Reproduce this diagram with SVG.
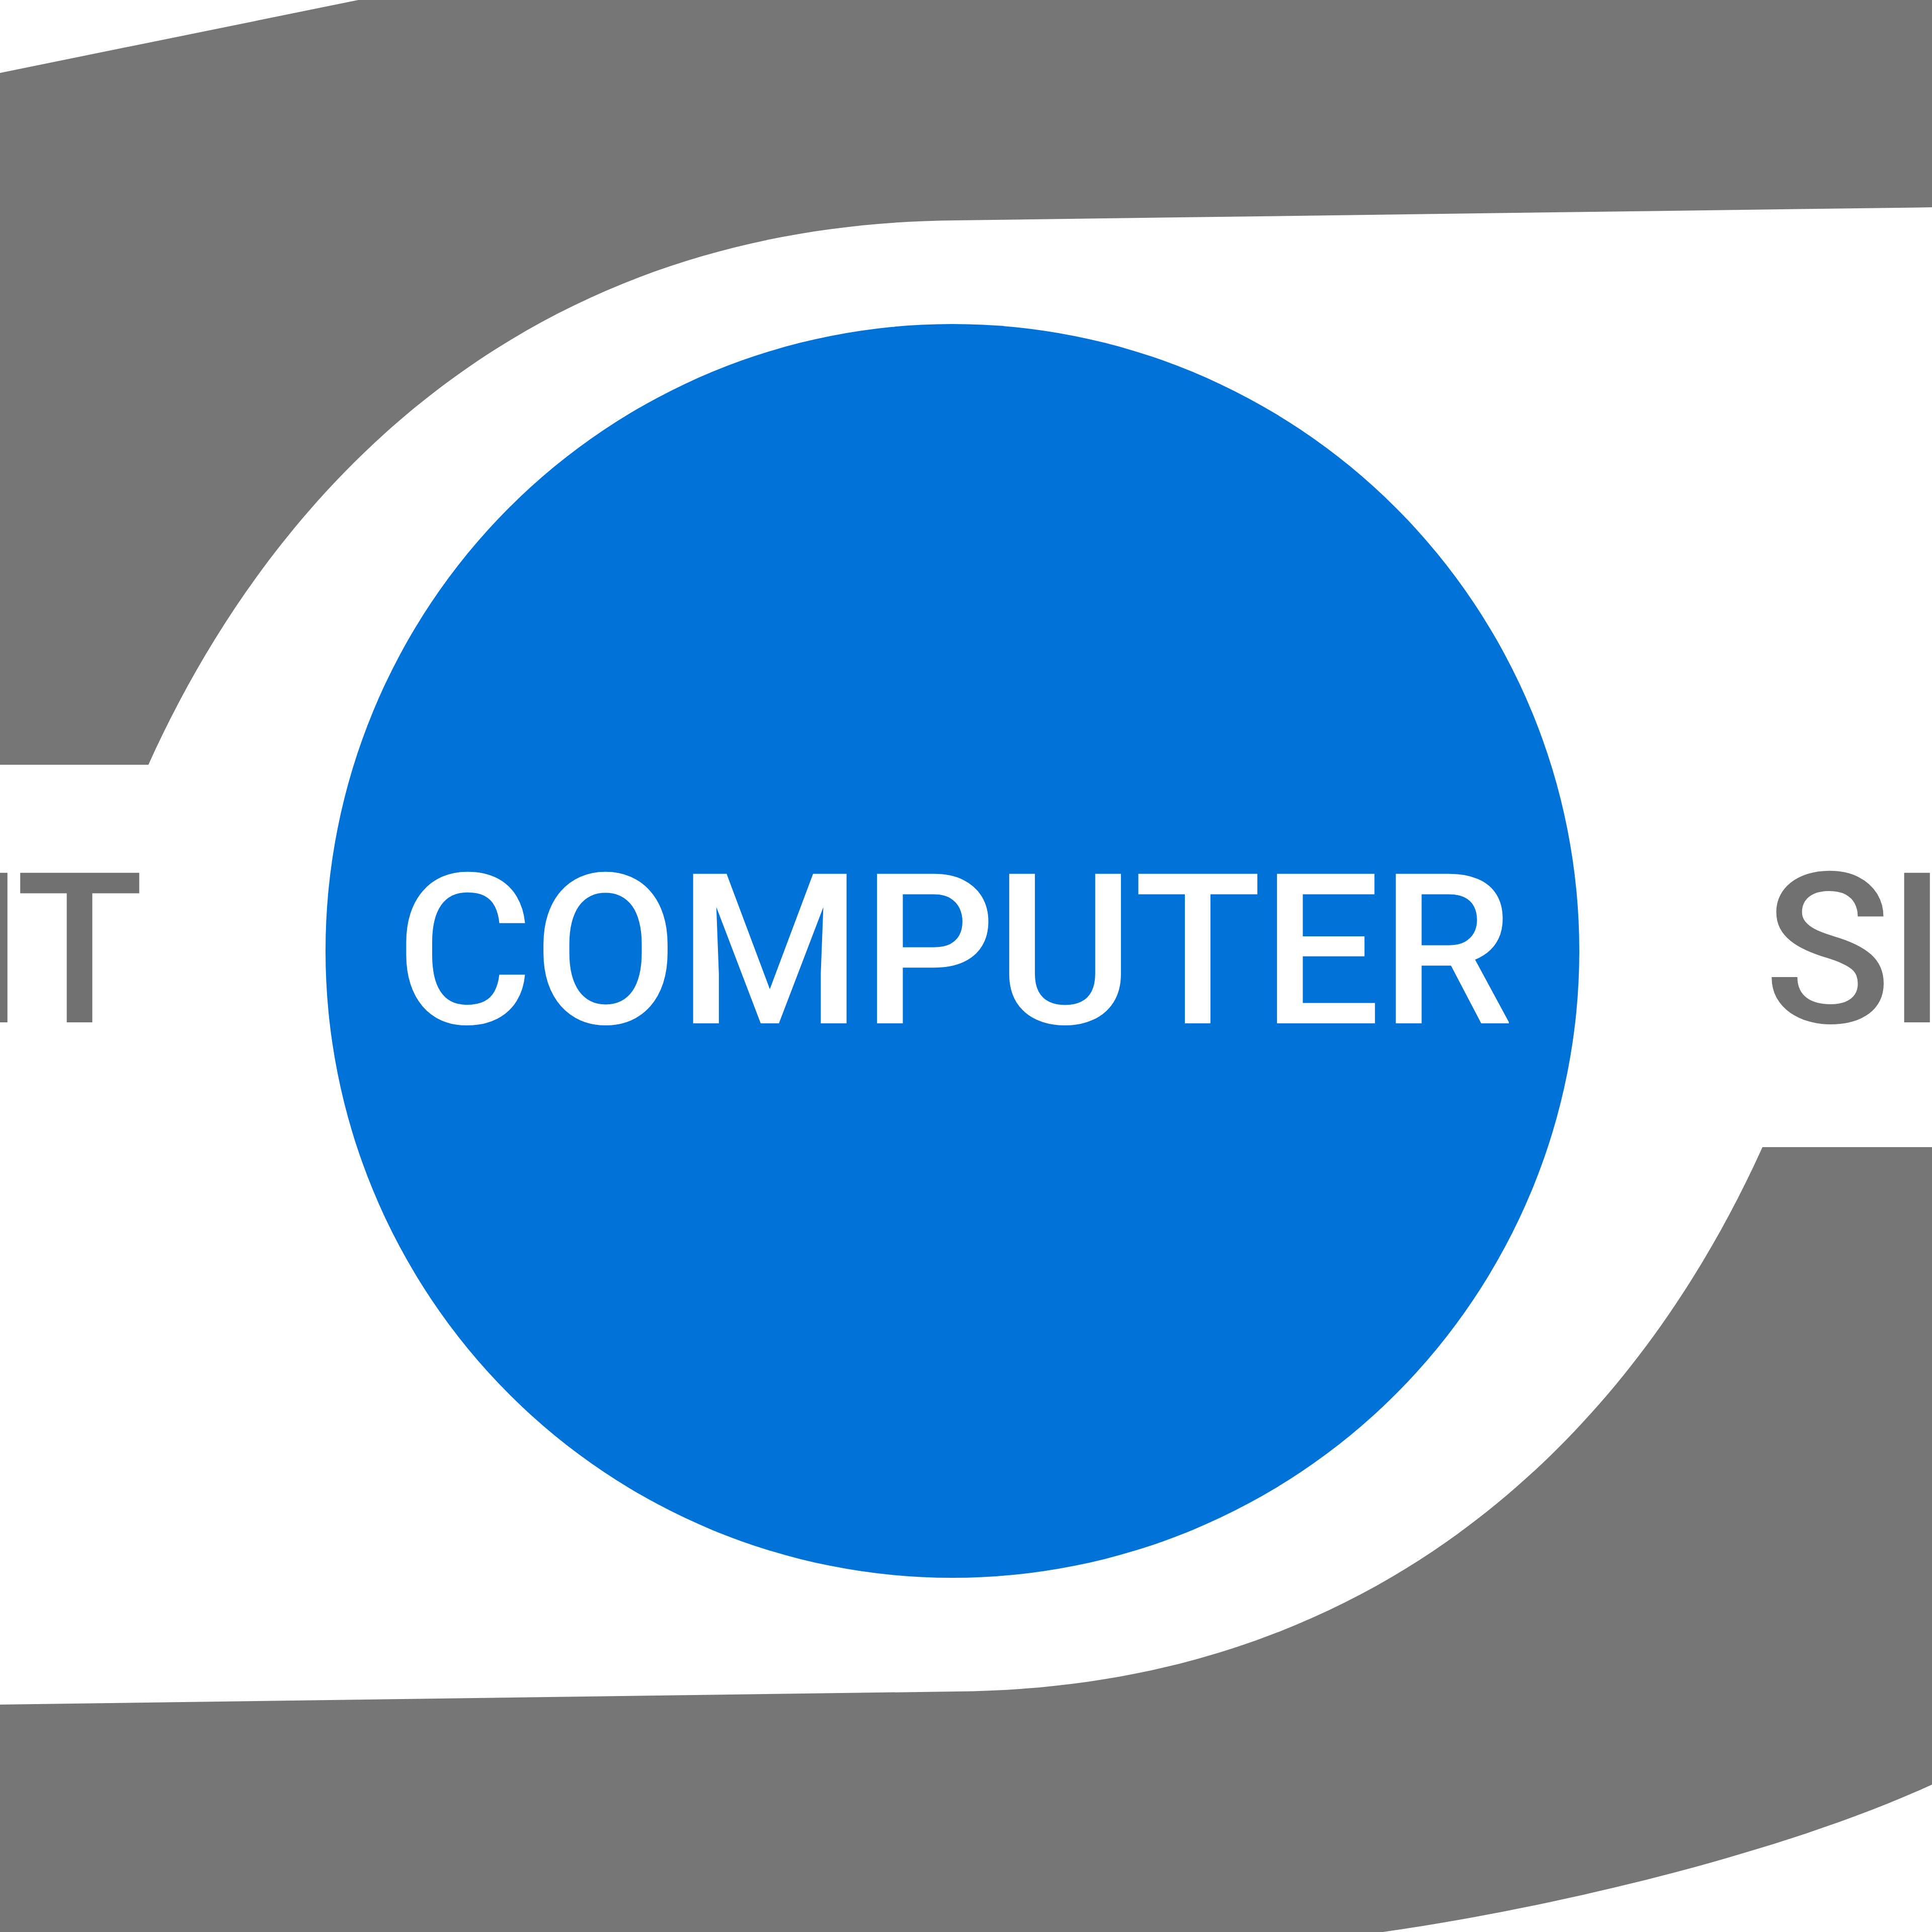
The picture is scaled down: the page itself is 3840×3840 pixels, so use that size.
<svg xmlns="http://www.w3.org/2000/svg" width="3840" height="3840" viewBox="0 0 3840 3840">
  <style>
    .band { fill: #767676; stroke: none; }
    .label { font-family: Roboto, "Liberation Sans", sans-serif; font-size: 418px; font-weight: 500; fill: #717171; }
    .node-text { font-family: Roboto, "Liberation Sans", sans-serif; font-size: 418px; font-weight: 500; fill: #ffffff; }
    .node-shape { fill: #0072D8; }
  </style>
  <rect x="0" y="0" width="3840" height="3840" fill="#ffffff"/>
  <g id="connectors">
    <path id="edge-top" class="band" d="M 0 145 L 712 0 L 3840 0 L 3840 412 L 1900 438 C 1000 445 520 1020 295 1520 L 0 1520 Z"/>
    <path id="edge-bottom" class="band" d="M 3840 3547 C 3550 3680 3100 3790 2749 3840 L 0 3840 L 0 3388 L 1898 3362 C 2798 3355 3278 2780 3503 2280 L 3840 2280 Z"/>
  </g>
  <g id="node-left">
    <text class="label" x="-70 31" y="2032">IT</text>
  </g>
  <g id="node-computer">
    <circle class="node-shape" cx="1893" cy="1890" r="1246"/>
    <text class="node-text" x="1897" y="2034" text-anchor="middle">COMPUTER</text>
  </g>
  <g id="node-right">
    <text class="label" x="3506 3751" y="2032">SI</text>
  </g>
</svg>
